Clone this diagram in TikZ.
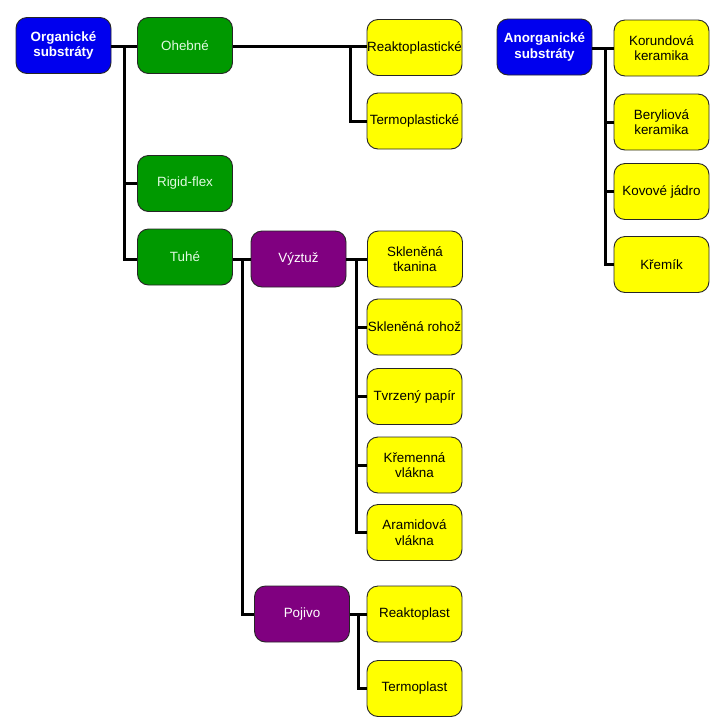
\documentclass[tikz,border=0pt]{standalone}
\usepackage{fontspec}
\setmainfont{Liberation Sans}
\definecolor{bboxc}{RGB}{0,0,238}
\definecolor{gboxc}{RGB}{0,153,0}
\definecolor{pboxc}{RGB}{128,0,128}
\definecolor{yboxc}{RGB}{255,255,0}
\definecolor{gtext}{RGB}{225,250,225}
\tikzset{
  box/.style={draw=black!85, line width=0.9pt, rounded corners=11pt, inner sep=0pt,
    minimum width=95pt, minimum height=56pt, align=center,
    font=\fontsize{13.4}{15.5}\selectfont},
  bbox/.style={box, fill=bboxc, text=white, font=\fontsize{13.4}{15.5}\selectfont\bfseries},
  gbox/.style={box, fill=gboxc, text=gtext},
  pbox/.style={box, fill=pboxc, text=white},
  ybox/.style={box, fill=yboxc, text=black},
  conn/.style={line width=3pt, black}
}
\begin{document}
\begin{tikzpicture}[x=1pt,y=-1pt]
\fill[white] (0,0) rectangle (724,721);
\useasboundingbox (0,0) rectangle (724,721);
\coordinate (j1) at (124,46);
\coordinate (j2) at (350,46);
\coordinate (j3) at (242,259);
\coordinate (j4) at (356,259);
\coordinate (j5) at (358,614);
\coordinate (j6) at (605,48);
% nodes
\node[bbox] (org) at (63.5,45.5) {Organické\\substráty};
\node[gbox] (ohe) at (185,45.5) {Ohebné};
\node[ybox] (rps) at (414.5,47.5) {Reaktoplastické};
\node[ybox] (tps) at (414.5,121) {Termoplastické};
\node[gbox] (rig) at (185,183.5) {Rigid-flex};
\node[gbox] (tuh) at (185,257) {Tuhé};
\node[pbox] (vyz) at (298.5,259) {Výztuž};
\node[ybox] (skt) at (415,259) {Skleněná\\tkanina};
\node[ybox] (skr) at (414.5,327) {Skleněná rohož};
\node[ybox] (tvp) at (414.5,396.5) {Tvrzený papír};
\node[ybox] (krv) at (414.5,465) {Křemenná\\vlákna};
\node[ybox] (arv) at (414.5,532.5) {Aramidová\\vlákna};
\node[pbox] (poj) at (302,614) {Pojivo};
\node[ybox] (rpl) at (414.5,614) {Reaktoplast};
\node[ybox] (tpl) at (414.5,688.5) {Termoplast};
\node[bbox] (ano) at (544.5,47) {Anorganické\\substráty};
\node[ybox] (kor) at (661.5,48) {Korundová\\keramika};
\node[ybox] (ber) at (661.5,122) {Beryliová\\keramika};
\node[ybox] (kov) at (661.5,191.5) {Kovové jádro};
\node[ybox] (kre) at (661.5,264.5) {Křemík};
% connectors
\draw[conn] (org.east |- j1) -- (ohe.west |- j1);
\draw[conn] (j1) |- (rig.west);
\draw[conn] (j1) |- (tuh.west |- j3);
\draw[conn] (ohe.east |- j2) -- (rps.west |- j2);
\draw[conn] (j2) |- (tps.west);
\draw[conn] (tuh.east |- j3) -- (vyz.west |- j3);
\draw[conn] (j3) |- (poj.west);
\draw[conn] (vyz.east) -- (skt.west);
\draw[conn] (j4) |- (skr.west);
\draw[conn] (j4) |- (tvp.west);
\draw[conn] (j4) |- (krv.west);
\draw[conn] (j4) |- (arv.west);
\draw[conn] (poj.east) -- (rpl.west);
\draw[conn] (j5) |- (tpl.west);
\draw[conn] (ano.east |- j6) -- (kor.west |- j6);
\draw[conn] (j6) |- (ber.west);
\draw[conn] (j6) |- (kov.west);
\draw[conn] (j6) |- (kre.west);
\end{tikzpicture}
\end{document}
